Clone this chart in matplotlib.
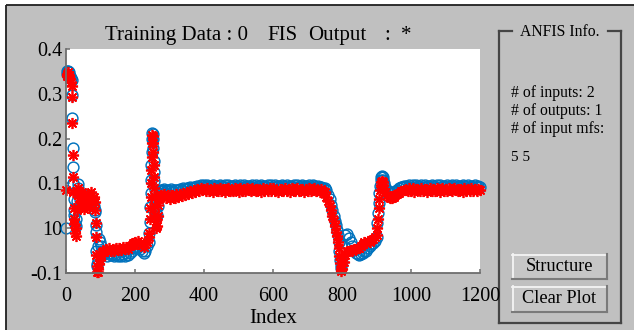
import numpy as np
import matplotlib
matplotlib.use('Agg')
import matplotlib.pyplot as plt
from matplotlib.patches import Rectangle

# ---------------- data ----------------
# start: idx 0..34 (irregular)
idx_start = [0, 2, 4, 6, 8, 10, 12, 14, 16, 17, 18, 19, 20, 21, 22, 23, 24, 26, 28, 30, 32, 34]
trn_start = [0.000, 0.345, 0.350, 0.352, 0.348, 0.343, 0.340, 0.335, 0.330, 0.297, 0.246,
             0.180, 0.137, 0.100, 0.065, 0.040, 0.030, 0.010, 0.005, 0.020, 0.060, 0.090]
fis_start = [0.085, 0.340, 0.345, 0.348, 0.342, 0.338, 0.333, 0.326, 0.318, 0.293, 0.235,
             0.163, 0.114, 0.080, 0.045, 0.020, 0.010, -0.010, -0.018, 0.000, 0.040, 0.075]

# blob idx 36..84 step 3
idx_blob = list(range(36, 85, 3))
trn_blob = [0.098, 0.080, 0.062, 0.075, 0.066, 0.052, 0.071, 0.060, 0.072, 0.064, 0.055,
            0.066, 0.072, 0.060, 0.055, 0.050, 0.040]
fis_blob = [0.090, 0.068, 0.050, 0.080, 0.058, 0.042, 0.070, 0.052, 0.076, 0.060, 0.046,
            0.070, 0.080, 0.058, 0.066, 0.070, 0.058]

# first drop
idx_drop1 = [85, 86, 87, 88, 89, 90, 92, 94, 96, 98, 100, 103, 106]
trn_drop1 = [0.036, 0.007, -0.008, -0.050, -0.080, -0.085, -0.070, -0.040, -0.025, -0.030,
             -0.040, -0.050, -0.058]
fis_drop1 = [0.040, 0.011, -0.020, -0.060, -0.085, -0.097, -0.098, -0.090, -0.080, -0.070,
             -0.060, -0.054, -0.050]

# low plateau idx 110..240 step 5
idx_low1 = list(range(110, 241, 5))
trn_low1 = [-0.058, -0.054, -0.061, -0.056, -0.060, -0.057, -0.062, -0.058, -0.063, -0.059,
            -0.062, -0.057, -0.061, -0.056, -0.059, -0.055, -0.050, -0.045, -0.042, -0.045,
            -0.041, -0.046, -0.052, -0.056, -0.050, -0.040, -0.030]
fis_low1 = [-0.053, -0.046, -0.051, -0.045, -0.050, -0.046, -0.051, -0.045, -0.049, -0.044,
            -0.048, -0.043, -0.047, -0.042, -0.046, -0.040, -0.038, -0.033, -0.031, -0.036,
            -0.029, -0.034, -0.038, -0.041, -0.035, -0.030, -0.020]

# spike
idx_spike = [242, 243, 244, 245, 246, 247, 248, 249, 250, 251, 252, 253, 254, 255, 256, 257,
             258, 259, 260, 262, 264, 266, 268, 270, 272, 275, 278]
trn_spike = [-0.010, 0.014, 0.047, 0.079, 0.108, 0.140, 0.170, 0.200, 0.212, 0.210, 0.200,
             0.180, 0.150, 0.125, 0.105, 0.085, 0.065, 0.045, 0.035, 0.025, 0.030, 0.050,
             0.068, 0.078, 0.083, 0.086, 0.085]
fis_spike = [-0.011, 0.020, 0.045, 0.070, 0.100, 0.130, 0.160, 0.190, 0.208, 0.205, 0.190,
             0.170, 0.140, 0.115, 0.090, 0.070, 0.050, 0.030, 0.015, 0.000, 0.005, 0.028,
             0.052, 0.066, 0.072, 0.074, 0.072]

# long steady part idx 280..745 step 5
idx_mid = list(range(280, 746, 5))
trn_mid = [0.084, 0.087, 0.083, 0.086, 0.084, 0.087, 0.083, 0.086, 0.085,
           0.085, 0.088, 0.086, 0.089, 0.088, 0.090, 0.089, 0.092, 0.090, 0.093, 0.092, 0.095,
           0.093, 0.096, 0.094,
           0.096, 0.092, 0.097, 0.094, 0.091, 0.097, 0.093, 0.095, 0.092, 0.097,
           0.094, 0.091, 0.096, 0.093, 0.097, 0.092, 0.095, 0.091, 0.097, 0.094,
           0.092, 0.096, 0.093, 0.097, 0.091, 0.095, 0.094, 0.092, 0.097, 0.093,
           0.096, 0.091, 0.094, 0.097, 0.092, 0.095, 0.093, 0.097, 0.091, 0.096,
           0.093, 0.097, 0.092, 0.095, 0.091, 0.096, 0.094, 0.092, 0.097, 0.093,
           0.095, 0.091, 0.097, 0.093, 0.096, 0.092, 0.094, 0.097, 0.091, 0.095,
           0.093, 0.096, 0.092, 0.097, 0.094, 0.091, 0.095, 0.093, 0.092, 0.090]
fis_mid = [0.070, 0.076, 0.068, 0.074, 0.066, 0.075, 0.070, 0.067, 0.076,
           0.070, 0.077, 0.072, 0.079, 0.074, 0.081, 0.076, 0.083, 0.078, 0.085, 0.081, 0.087,
           0.083, 0.089, 0.085,
           0.088, 0.082, 0.090, 0.084, 0.086, 0.081, 0.089, 0.085, 0.083, 0.090,
           0.084, 0.088, 0.081, 0.087, 0.090, 0.083, 0.086, 0.082, 0.089, 0.085,
           0.081, 0.090, 0.084, 0.087, 0.082, 0.089, 0.085, 0.083, 0.090, 0.086,
           0.082, 0.088, 0.085, 0.081, 0.090, 0.084, 0.087, 0.082, 0.089, 0.084,
           0.090, 0.083, 0.086, 0.081, 0.088, 0.085, 0.082, 0.090, 0.084, 0.087,
           0.081, 0.089, 0.085, 0.083, 0.090, 0.082, 0.086, 0.088, 0.081, 0.087,
           0.084, 0.090, 0.082, 0.086, 0.089, 0.083, 0.085, 0.081, 0.088, 0.084]

# second descent
idx_drop2 = [750, 755, 760, 764, 768, 772, 776, 780, 783, 786, 788, 790, 792, 794, 796, 798]
trn_drop2 = [0.090, 0.085, 0.075, 0.065, 0.052, 0.040, 0.028, 0.016, 0.008, -0.004, -0.015,
             -0.030, -0.050, -0.070, -0.082, -0.088]
fis_drop2 = [0.080, 0.070, 0.060, 0.050, 0.040, 0.028, 0.016, 0.004, -0.008, -0.018, -0.030,
             -0.045, -0.062, -0.078, -0.090, -0.095]

# second low part idx 800..895 step 5
idx_low2 = list(range(800, 896, 5))
trn_low2 = [-0.075, -0.040, -0.015, -0.012, -0.022, -0.030, -0.040, -0.048, -0.055, -0.058,
            -0.060, -0.058, -0.055, -0.050, -0.052, -0.045, -0.040, -0.036, -0.032, -0.028]
fis_low2 = [-0.092, -0.075, -0.060, -0.052, -0.050, -0.048, -0.050, -0.046, -0.047, -0.044,
            -0.045, -0.040, -0.036, -0.030, -0.032, -0.028, -0.030, -0.026, -0.024, -0.020]

# second rise
idx_rise = [900, 902, 904, 906, 908, 910, 912, 914, 916, 918, 920, 923, 926, 930, 935, 940,
            945, 950, 955, 960, 965, 970, 975, 980]
trn_rise = [-0.020, 0.012, 0.034, 0.056, 0.078, 0.095, 0.108, 0.115, 0.117, 0.114, 0.108,
            0.100, 0.092, 0.085, 0.080, 0.078, 0.078, 0.080, 0.083, 0.086, 0.089, 0.091,
            0.093, 0.094]
fis_rise = [-0.015, 0.000, 0.020, 0.045, 0.065, 0.085, 0.097, 0.104, 0.106, 0.104, 0.097,
            0.088, 0.080, 0.074, 0.070, 0.068, 0.068, 0.070, 0.073, 0.076, 0.079, 0.082,
            0.084, 0.085]

# final steady part idx 985..1200 step 5
idx_end = list(range(985, 1201, 5))
trn_end = [0.094, 0.091, 0.097, 0.093, 0.096, 0.092, 0.097, 0.094, 0.091, 0.096,
           0.093, 0.097, 0.092, 0.095, 0.091, 0.097, 0.094, 0.092, 0.096, 0.093,
           0.097, 0.091, 0.095, 0.093, 0.097, 0.092, 0.094, 0.096, 0.091, 0.097,
           0.093, 0.095, 0.092, 0.097, 0.094, 0.091, 0.096, 0.093, 0.095, 0.092,
           0.096, 0.093, 0.095, 0.092]
fis_end = [0.086, 0.082, 0.089, 0.084, 0.090, 0.081, 0.087, 0.085, 0.083, 0.090,
           0.084, 0.088, 0.081, 0.086, 0.090, 0.083, 0.087, 0.082, 0.089, 0.085,
           0.081, 0.090, 0.084, 0.087, 0.082, 0.089, 0.085, 0.083, 0.090, 0.086,
           0.082, 0.088, 0.085, 0.081, 0.090, 0.084, 0.087, 0.082, 0.089, 0.084,
           0.088, 0.083, 0.087, 0.085]

x_ticks = [0, 200, 400, 600, 800, 1000, 1200]
y_ticks = [-0.1, 0.0, 0.1, 0.2, 0.3, 0.4]
y_tick_labels = ['-0.1', '10', '0.1', '0.2', '0.3', '0.4']
info_lines = ['# of inputs: 2', '# of outputs: 1', '# of input mfs:']
mfs_text = '5 5'

index = (idx_start + idx_blob + idx_drop1 + idx_low1 + idx_spike + idx_mid + idx_drop2
         + idx_low2 + idx_rise + idx_end)
training = (trn_start + trn_blob + trn_drop1 + trn_low1 + trn_spike + trn_mid + trn_drop2
            + trn_low2 + trn_rise + trn_end)
fis_out = (fis_start + fis_blob + fis_drop1 + fis_low1 + fis_spike + fis_mid + fis_drop2
           + fis_low2 + fis_rise + fis_end)

# ---------------- figure ----------------
W, H = 634, 330
SERIF = 'Liberation Serif'
BG = '#c0c0c0'
fig = plt.figure(figsize=(W / 100, H / 100), dpi=100, facecolor='white')

gui = fig.add_axes([0, 0, 1, 1], zorder=0)
gui.set_xlim(0, W)
gui.set_ylim(H, 0)
gui.axis('off')
gui.add_patch(Rectangle((6, 5), W - 6, H - 5, facecolor=BG, edgecolor='none'))
gui.plot([5.5, W], [5, 5], color='#202020', lw=1.3, solid_capstyle='butt')
gui.plot([6, 6], [4.5, H], color='#202020', lw=1.3, solid_capstyle='butt')

# title pieces
tkw = dict(fontsize=15, family=SERIF, va='baseline', ha='left', color='black')
gui.text(105, 40, 'Training Data : 0', **tkw)
gui.text(267, 40, 'FIS', **tkw)
gui.text(308, 40, 'Output', **tkw)
gui.text(384, 40, ':', **tkw)
gui.text(401, 40, '*', **tkw)
gui.text(273, 323, 'Index', fontsize=15, family=SERIF, va='baseline', ha='center')

# info panel frame
FR = '#454545'
lkw = dict(color=FR, lw=1.6, solid_capstyle='projecting')
gui.plot([499, 512], [30.5, 30.5], **lkw)
gui.plot([608, 621], [30.5, 30.5], **lkw)
gui.plot([499, 499], [30.5, 323], **lkw)
gui.plot([621, 621], [30.5, 323], **lkw)
gui.plot([499, 621], [323, 323], **lkw)
gui.text(520, 36, 'ANFIS Info.', fontsize=11.3, family=SERIF, va='baseline', ha='left')
for t, yb in zip(info_lines, [97, 115, 133]):
    gui.text(511, yb, t, fontsize=11.3, family=SERIF, va='baseline', ha='left')
gui.text(511, 161, mfs_text, fontsize=11, family=SERIF, va='baseline', ha='left')

# buttons
def button(x0, y0, x1, y1, label, base):
    gui.add_patch(Rectangle((x0, y0), x1 - x0, y1 - y0, facecolor='#c6c6c6',
                            edgecolor='none'))
    gui.plot([x0, x1], [y0 + 0.5, y0 + 0.5], color='#f4f4f4', lw=1.3)
    gui.plot([x0 + 0.5, x0 + 0.5], [y0, y1], color='#f4f4f4', lw=1.3)
    gui.plot([x0, x1], [y1 - 0.5, y1 - 0.5], color='#7a7a7a', lw=1.5)
    gui.plot([x1 - 0.5, x1 - 0.5], [y0, y1], color='#7a7a7a', lw=1.5)
    gui.text((x0 + x1) / 2, base, label, fontsize=13.2, family=SERIF,
             va='baseline', ha='center')

button(512, 254, 607, 279, 'Structure', 271)
button(512, 286, 607, 312, 'Clear Plot', 303)

# main axes
ax = fig.add_axes([66 / W, (H - 273) / H, 414 / W, 224 / H], zorder=1)
ax.set_facecolor('white')
ax.plot(index, training, linestyle='none', marker='o', markersize=7.8,
        markerfacecolor='none', markeredgecolor='#0072BD', markeredgewidth=1.05,
        clip_on=False)
ax.plot(index, fis_out, linestyle='none', marker=(8, 2, 0), markersize=8.0,
        markeredgecolor='#ff0000', markeredgewidth=1.25, clip_on=False)
ax.set_xlim(0, 1200)
ax.set_ylim(-0.1, 0.4)
ax.set_xticks(x_ticks)
ax.set_xticklabels([str(v) for v in x_ticks])
ax.set_yticks(y_ticks)
ax.set_yticklabels(y_tick_labels)
for s in ['top', 'right']:
    ax.spines[s].set_visible(False)
for s in ['left', 'bottom']:
    ax.spines[s].set_color('#6e6e6e')
    ax.spines[s].set_linewidth(1.3)
ax.tick_params(axis='both', direction='in', length=3, width=1.1, color='#6e6e6e',
               labelsize=14.5, labelcolor='black')
ax.tick_params(axis='x', pad=10)
ax.tick_params(axis='y', pad=2.5)
for lab in ax.get_xticklabels() + ax.get_yticklabels():
    lab.set_family(SERIF)

fig.savefig('out.png', dpi=100, facecolor=fig.get_facecolor())
